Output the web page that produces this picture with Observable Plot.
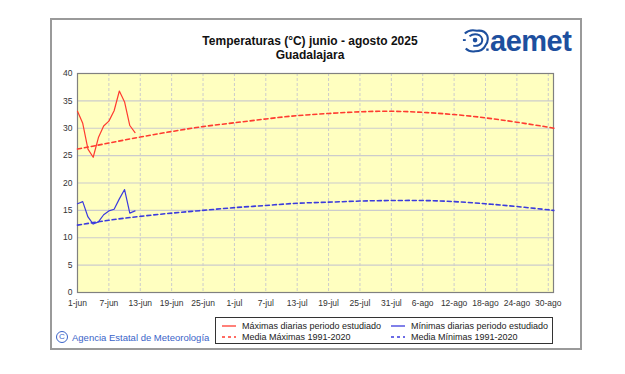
<!DOCTYPE html>
<html>
<head>
<meta charset="utf-8">
<script src="https://cdn.jsdelivr.net/npm/d3@7"></script>
<script src="https://cdn.jsdelivr.net/npm/@observablehq/plot@0.6"></script>
<style>
  html, body { margin: 0; padding: 0; background: #fff; }
  body { width: 625px; height: 374px; position: relative; overflow: hidden; font-family: "Liberation Sans", Arial, sans-serif; }
  #frame { position: absolute; left: 50px; top: 18px; width: 528px; height: 328px; border: 2px solid #9a9a9a; box-sizing: content-box; }
  #chart { position: absolute; left: 0; top: 0; }
  .title { position: absolute; left: 160px; width: 300px; text-align: center; font-weight: bold; font-size: 12px; color: #111; }
  #logo { position: absolute; left: 462px; top: 26px; display: flex; align-items: center; }
  #logo span { font-weight: bold; font-size: 29px; color: #1d4f9e; letter-spacing: -0.5px; line-height: 30px; }
  #legend { position: absolute; left: 215px; top: 317px; width: 336px; height: 25px; border: 1px solid #333; background: #fff; font-size: 9px; color: #222; }
  .li { position: absolute; display: flex; align-items: center; height: 11px; }
  .li svg { margin-right: 6px; }
  #credit { position: absolute; left: 56px; top: 331px; font-size: 9.5px; color: #3a63c8; display: flex; align-items: center; }
  #credit .c { display: inline-block; width: 10px; height: 10px; border: 1px solid #3a63c8; border-radius: 50%; font-size: 8px; line-height: 10px; text-align: center; margin-right: 4px; }
</style>
</head>
<body>
<div id="frame"></div>
<div id="chart"></div>
<div class="title" style="top:34px">Temperaturas (°C) junio - agosto 2025</div>
<div class="title" style="top:48px">Guadalajara</div>
<div id="logo">
  <svg width="28" height="28" viewBox="0 0 30 28">
    <path d="M3 6 Q8 1 16 3 Q24 2 27 8 Q29 14 25 19 Q22 25 14 25 Q8 26 4 22" fill="none" stroke="#1d4f9e" stroke-width="2.2"/>
    <path d="M8 9 Q13 5 19 8 Q23 11 21 16 Q18 20 12 19" fill="none" stroke="#1d4f9e" stroke-width="2"/>
    <circle cx="14" cy="13" r="2.5" fill="#1d4f9e"/>
    <rect x="1" y="12" width="3" height="2" fill="#1d4f9e"/>
    <rect x="26" y="22" width="2.5" height="2.5" fill="#1d4f9e"/>
  </svg>
  <span>aemet</span>
</div>
<div id="legend"></div>
<div id="credit"><span class="c">C</span>Agencia Estatal de Meteorología</div>
<script>
// ---- data ----
const dailyDates = ["2025-06-01","2025-06-02","2025-06-03","2025-06-04","2025-06-05","2025-06-06",
                    "2025-06-07","2025-06-08","2025-06-09","2025-06-10","2025-06-11","2025-06-12"];
const maxDaily = [33.1, 30.9, 26.2, 24.7, 28.3, 30.4, 31.3, 33.2, 36.8, 34.8, 30.5, 29.2];
const minDaily = [16.2, 16.6, 13.8, 12.5, 12.9, 14.2, 14.9, 15.2, 17.1, 18.8, 14.5, 14.9];

const climDates = ["2025-06-01","2025-06-07","2025-06-13","2025-06-19","2025-06-25","2025-07-01",
                   "2025-07-07","2025-07-13","2025-07-19","2025-07-25","2025-07-31","2025-08-06",
                   "2025-08-12","2025-08-18","2025-08-24","2025-08-30","2025-08-31"];
const climMax = [26.2, 27.3, 28.4, 29.4, 30.3, 31.0, 31.7, 32.3, 32.7, 33.0, 33.1, 32.9, 32.5, 31.9, 31.1, 30.2, 30.0];
const climMin = [12.3, 13.2, 13.9, 14.5, 15.0, 15.5, 15.9, 16.3, 16.5, 16.7, 16.8, 16.8, 16.6, 16.2, 15.7, 15.1, 15.0];

const xTickDates = ["2025-06-01","2025-06-07","2025-06-13","2025-06-19","2025-06-25","2025-07-01",
                    "2025-07-07","2025-07-13","2025-07-19","2025-07-25","2025-07-31","2025-08-06",
                    "2025-08-12","2025-08-18","2025-08-24","2025-08-30"];
const xTickLabels = ["1-jun","7-jun","13-jun","19-jun","25-jun","1-jul","7-jul","13-jul","19-jul",
                     "25-jul","31-jul","6-ago","12-ago","18-ago","24-ago","30-ago"];
const yTicks = [0, 5, 10, 15, 20, 25, 30, 35, 40];
const xDomain = ["2025-06-01", "2025-08-31"];

const legendItems = [
  {label: "Máximas diarias periodo estudiado", color: "#ff3b30", dash: null},
  {label: "Media Máximas 1991-2020", color: "#ff3b30", dash: "3,3"},
  {label: "Mínimas diarias periodo estudiado", color: "#3b3bdd", dash: null},
  {label: "Media Mínimas 1991-2020", color: "#3b3bdd", dash: "3,3"}
];

// ---- build ----
const P = s => new Date(s + "T00:00:00Z");
const daily = dailyDates.map((d, i) => ({date: P(d), max: maxDaily[i], min: minDaily[i]}));
const clim = climDates.map((d, i) => ({date: P(d), max: climMax[i], min: climMin[i]}));
const ticks = xTickDates.map(P);
const labelOf = new Map(ticks.map((t, i) => [+t, xTickLabels[i]]));

const RED = "#ff3b30", BLUE = "#3b3bdd";

const chart = Plot.plot({
  width: 625,
  height: 374,
  marginLeft: 77,
  marginRight: 72,
  marginTop: 73,
  marginBottom: 82,
  style: {fontFamily: "'Liberation Sans', Arial, sans-serif", fontSize: "8.5px", background: "transparent", color: "#333"},
  x: {type: "utc", domain: xDomain.map(P)},
  y: {domain: [0, 40]},
  marks: [
    Plot.frame({fill: "#ffffc0"}),
    Plot.gridY(yTicks, {stroke: "#cccccc", strokeOpacity: 1, strokeWidth: 1.2}),
    Plot.gridX(ticks, {stroke: "#cccccc", strokeOpacity: 1, strokeDasharray: "3,2", strokeWidth: 1}),
    Plot.frame({stroke: "#808080", strokeWidth: 1.2}),
    Plot.axisY(yTicks, {tickSize: 0, tickPadding: 5, label: null, fill: "#333"}),
    Plot.axisX(ticks, {tickSize: 0, tickPadding: 7, label: null, fill: "#333", tickFormat: d => labelOf.get(+d)}),
    Plot.line(clim, {x: "date", y: "max", stroke: RED, strokeWidth: 1.6, strokeDasharray: "4,3", curve: "natural"}),
    Plot.line(clim, {x: "date", y: "min", stroke: BLUE, strokeWidth: 1.6, strokeDasharray: "4,3", curve: "natural"}),
    Plot.line(daily, {x: "date", y: "max", stroke: RED, strokeWidth: 1.2}),
    Plot.line(daily, {x: "date", y: "min", stroke: BLUE, strokeWidth: 1.2})
  ]
});
document.getElementById("chart").appendChild(chart);

// legend
const leg = document.getElementById("legend");
const pos = [[6, 2], [6, 13], [175, 2], [175, 13]];
legendItems.forEach((it, i) => {
  const d = document.createElement("div");
  d.className = "li";
  d.style.left = pos[i][0] + "px";
  d.style.top = pos[i][1] + "px";
  d.innerHTML = `<svg width="14" height="4"><line x1="0" y1="2" x2="14" y2="2" stroke="${it.color}" stroke-width="1.3" ${it.dash ? `stroke-dasharray="${it.dash}"` : ""}/></svg><span>${it.label}</span>`;
  leg.appendChild(d);
});
</script>
</body>
</html>
